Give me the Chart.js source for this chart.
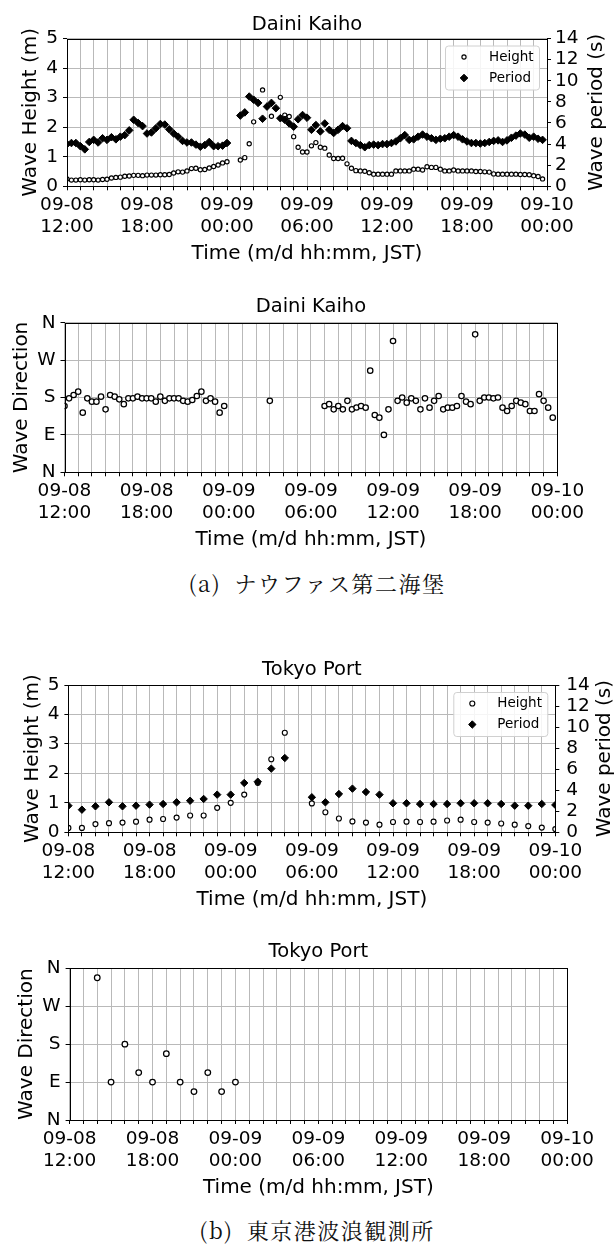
<!DOCTYPE html>
<html>
<head>
<meta charset="utf-8">
<script src="https://cdn.jsdelivr.net/npm/chart.js@4.4.1/dist/chart.umd.min.js"></script>
<style>
  html, body { margin: 0; padding: 0; background: #fff; }
  body { width: 615px; height: 1244px; position: relative; overflow: hidden; }
  canvas { position: absolute; left: 0; }
  .caption {
    position: absolute; left: 0; width: 634px; text-align: center;
    font-family: "Noto Serif CJK JP", "Noto Sans CJK JP", serif;
    font-size: 22px; line-height: 26px; letter-spacing: 1.5px; word-spacing: 6px; color: #111;
  }
</style>
</head>
<body>
<canvas id="dkWave" width="615" height="280" style="top:0"></canvas>
<canvas id="dkDir" width="615" height="280" style="top:280px"></canvas>
<div class="caption" style="top:570px">(a) ナウファス第二海堡</div>
<canvas id="tpWave" width="615" height="300" style="top:630px"></canvas>
<canvas id="tpDir" width="615" height="280" style="top:930px"></canvas>
<div class="caption" style="top:1217px">(b) 東京港波浪観測所</div>

<script>
// x axis: hours after 09-08 12:00 (JST)
const hourTicks = [0, 6, 12, 18, 24, 30, 36];
const hourTickLabels = [['09-08', '12:00'], ['09-08', '18:00'], ['09-09', '00:00'], ['09-09', '06:00'],
                        ['09-09', '12:00'], ['09-09', '18:00'], ['09-10', '00:00']];
const dirTickLabels = ['N', 'E', 'S', 'W', 'N'];   // 0, 90, 180, 270, 360 deg

// Daini Kaiho, one value every 20 min from 09-08 12:00
const dkHeight = [
  0.25, 0.21, 0.21, 0.22, 0.21, 0.22, 0.22, 0.21, 0.23, 0.24,
  0.28, 0.30, 0.31, 0.34, 0.35, 0.37, 0.37, 0.36, 0.38, 0.38,
  0.38, 0.39, 0.39, 0.40, 0.45, 0.49, 0.48, 0.52, 0.60, 0.61,
  0.56, 0.57, 0.62, 0.67, 0.72, 0.79, 0.83, null, null, 0.89,
  0.97, 1.44, 2.18, null, 3.26, null, 2.37, null, 3.01, 2.41,
  2.36, 1.68, 1.32, 1.16, 1.16, 1.37, 1.48, 1.32, 1.29, 1.06,
  0.94, 0.94, 0.95, 0.76, 0.61, 0.53, 0.52, 0.51, 0.46, 0.41,
  0.41, 0.41, 0.41, 0.41, 0.52, 0.52, 0.52, 0.52, 0.58, 0.58,
  0.55, 0.66, 0.64, 0.64, 0.58, 0.52, 0.52, 0.55, 0.52, 0.52,
  0.52, 0.52, 0.50, 0.50, 0.49, 0.48, 0.42, 0.41, 0.41, 0.41,
  0.41, 0.41, 0.40, 0.40, 0.39, 0.36, 0.33, 0.25, null
];
const dkPeriod = [
  4.0, 4.1, 4.1, 3.8, 3.5, 4.2, 4.4, 4.15, 4.55, 4.4,
  4.65, 4.45, 4.7, 4.85, 5.3, 6.3, 6.0, 5.7, 5.0, 5.1,
  5.5, 5.9, 5.85, 5.4, 5.0, 4.7, 4.3, 4.15, 4.15, 3.95,
  3.75, 3.9, 4.2, 3.8, 3.8, 3.85, 4.1, null, null, 6.7,
  7.0, 8.5, 8.2, 7.9, 6.4, 7.55, 7.9, 7.4, 6.45, 6.3,
  5.95, 5.65, 6.35, 6.75, 6.5, 5.35, 5.8, 5.2, 5.95, 5.35,
  5.05, 5.35, 5.7, 5.5, 4.3, 4.1, 3.9, 3.7, 3.9, 3.95,
  3.9, 4.0, 4.0, 4.1, 4.25, 4.55, 4.85, 4.4, 4.45, 4.7,
  4.9, 4.7, 4.55, 4.4, 4.5, 4.55, 4.7, 4.85, 4.7, 4.45,
  4.25, 4.1, 4.1, 4.05, 4.1, 4.2, 4.3, 4.35, 4.2, 4.35,
  4.6, 4.8, 5.0, 4.9, 4.6, 4.7, 4.5, 4.4, null
];
const dkDirection = [
  159.5, 178, 186, 194, 143.5, 178, 170, 170, 182, 151.5,
  186, 182, 175.5, 164, 178, 178, 182, 178, 178, 178,
  170, 182, 172, 178, 178, 178, 172, 170, 174, 183.5,
  194, 172, 178, 170, 143.5, 159.5, null, null, null, null,
  null, null, null, null, null, 172, null, null, null, null,
  null, null, null, null, null, null, null, 159.5, 164, 151.5,
  159.5, 151.5, 172, 151.5, 156, 159.5, 155.5, 244.5, 138, 131.5,
  90, 151.5, 316, 172, 180, 167.5, 178, 172, 151.5, 178,
  155.5, 172, 183.5, 151.5, 155.5, 155.5, 159.5, 183.5, 170, 164,
  332, 172, 180, 180, 178, 180, 155.5, 147.5, 159.5, 172,
  167.5, 164, 147.5, 147.5, 188, 172, 155.5, 131.5, null
];
const dkTimes = dkHeight.map((_, i) => i / 3);

// Tokyo Port, hourly from 09-08 12:00
const tpHeight = [
  0.15, 0.15, 0.28, 0.31, 0.33, 0.36, 0.43, 0.45, 0.50, 0.57, 0.57, 0.83, 1.0,
  1.28, 1.68, 2.48, 3.38, null, 0.98, 0.68, 0.47, 0.37, 0.33, 0.26, 0.35,
  0.36, 0.35, 0.36, 0.40, 0.43, 0.35, 0.33, 0.30, 0.26, 0.21, 0.16, 0.11
];
const tpPeriod = [
  2.53, 2.15, 2.47, 2.85, 2.47, 2.53, 2.63, 2.69, 2.85, 3.0, 3.17, 3.58, 3.58,
  4.69, 4.81, 6.05, 7.06, null, 3.33, 2.85, 3.64, 4.15, 3.83, 3.58, 2.76,
  2.76, 2.69, 2.69, 2.69, 2.76, 2.76, 2.76, 2.69, 2.53, 2.53, 2.69, 2.6
];
const tpDirection = [
  null, null, 337.5, 90, 180, 112.5, 90, 157.5, 90, 67.5, 112.5, 67.5, 90,
  null, null, null, null, null, null, null, null, null, null, null, null,
  null, null, null, null, null, null, null, null, null, null, null, null
];
const tpTimes = tpHeight.map((_, i) => i);

Chart.defaults.font.family = "'DejaVu Sans', sans-serif";
Chart.defaults.color = '#000';

const gridColor = '#b9b9b9';
const tickFont = { size: 18.5 };
const labelFont = { size: 20 };

function points(times, values) {
  return times.map((t, i) => ({ x: t, y: values[i] })).filter(p => p.y !== null);
}

// black box round the plot area
const framePlugin = {
  id: 'frame',
  afterDatasetsDraw(chart) {
    const { ctx, chartArea: a } = chart;
    ctx.save();
    ctx.strokeStyle = '#000';
    ctx.lineWidth = 1;
    ctx.strokeRect(Math.round(a.left) + 0.5, Math.round(a.top) + 0.5,
                   Math.round(a.right) - Math.round(a.left), Math.round(a.bottom) - Math.round(a.top));
    ctx.restore();
  }
};

// right axis label reads bottom to top, as in matplotlib's twinx
const rightLabel = {
  id: 'rightLabel',
  afterDraw(chart, args, opts) {
    if (!opts.text) return;
    const { ctx, chartArea: a } = chart;
    ctx.save();
    ctx.translate(opts.x, (a.top + a.bottom) / 2);
    ctx.rotate(-Math.PI / 2);
    ctx.font = "20px 'DejaVu Sans', sans-serif";
    ctx.fillStyle = '#000';
    ctx.textAlign = 'center';
    ctx.textBaseline = 'middle';
    ctx.fillText(opts.text, 0, 0);
    ctx.restore();
  }
};

// legend drawn inside the upper right corner, like matplotlib's
const insideLegend = {
  id: 'insideLegend',
  afterDraw(chart, args, opts) {
    if (!opts.show) return;
    const { ctx, chartArea: a } = chart;
    const w = 94, h = 44;
    const x = a.right - 8 - w, y = a.top + 7;
    ctx.save();
    ctx.fillStyle = 'rgba(255,255,255,0.85)';
    ctx.strokeStyle = '#d0d0d0';
    ctx.lineWidth = 1;
    ctx.beginPath();
    ctx.roundRect(x + 0.5, y + 0.5, w, h, 3);
    ctx.fill();
    ctx.stroke();
    ctx.font = "13.5px 'DejaVu Sans', sans-serif";
    ctx.textBaseline = 'middle';
    chart.data.datasets.forEach((ds, i) => {
      const cy = y + 11.5 + i * 21;
      ctx.fillStyle = ds.pointBackgroundColor;
      ctx.strokeStyle = ds.pointBorderColor;
      ctx.lineWidth = ds.pointBorderWidth;
      Chart.helpers.drawPoint(ctx, {
        pointStyle: ds.pointStyle, radius: ds.pointRadius, borderWidth: ds.pointBorderWidth, rotation: 0
      }, x + 19, cy);
      ctx.fillStyle = '#000';
      ctx.fillText(ds.label, x + 44, cy);
    });
    ctx.restore();
  }
};

function timeAxis(height, titlePad) {
  return {
    type: 'linear', min: 0, max: 36,
    afterFit(s) { s.height = height; },
    ticks: {
      stepSize: 1, autoSkip: false, maxRotation: 0, minRotation: 0, padding: 4, font: tickFont,
      callback(v) { const k = hourTicks.indexOf(v); return k < 0 ? '' : hourTickLabels[k]; }
    },
    grid: { color: gridColor, lineWidth: 1, tickLength: 4, tickColor: '#000' },
    border: { display: false },
    title: { display: true, text: 'Time (m/d hh:mm, JST)', font: labelFont, padding: { top: 0, bottom: titlePad } }
  };
}

function waveChart(id, g) {
  new Chart(document.getElementById(id), {
    type: 'scatter',
    data: {
      datasets: [
        { label: 'Height', data: points(g.times, g.height), yAxisID: 'yH', order: 2, clip: 0,
          pointStyle: 'circle', pointRadius: g.circle, pointBorderWidth: 1.15,
          pointBackgroundColor: '#fff', pointBorderColor: '#000' },
        { label: 'Period', data: points(g.times, g.period), yAxisID: 'yP', order: 1, clip: 0,
          pointStyle: 'rectRot', pointRadius: g.diamond, pointBorderWidth: 1,
          pointBackgroundColor: '#000', pointBorderColor: '#000' }
      ]
    },
    options: {
      responsive: false, animation: false, devicePixelRatio: 1,
      layout: { padding: 0 },
      plugins: {
        legend: { display: false }, tooltip: { enabled: false },
        title: { display: true, text: g.title, fullSize: false, font: { size: 19.5, weight: 'normal' },
                 padding: g.titlePad, color: '#000' },
        insideLegend: { show: true },
        rightLabel: { text: 'Wave period (s)', x: g.rightTitleX }
      },
      scales: {
        x: timeAxis(g.xHeight, g.xTitlePad),
        yH: {
          type: 'linear', position: 'left', min: 0, max: 5,
          afterFit(s) { s.width = g.left; },
          ticks: { stepSize: 1, autoSkip: false, padding: 5, font: tickFont },
          grid: { color: gridColor, lineWidth: 1, tickLength: 4, tickColor: '#000' },
          border: { display: false },
          title: { display: true, text: 'Wave Height (m)', font: labelFont, padding: { top: g.leftTitle } }
        },
        yP: {
          type: 'linear', position: 'right', min: 0, max: 14,
          afterFit(s) { s.width = g.right; },
          ticks: { stepSize: 2, autoSkip: false, padding: g.rightPad, font: tickFont },
          grid: { drawOnChartArea: false, tickLength: 4, tickColor: '#000' },
          border: { display: false }
        }
      }
    },
    plugins: [framePlugin, insideLegend, rightLabel]
  });
}

function directionChart(id, g) {
  new Chart(document.getElementById(id), {
    type: 'scatter',
    data: {
      datasets: [
        { label: 'Direction', data: points(g.times, g.direction), clip: 0,
          pointStyle: 'circle', pointRadius: g.circle, pointBorderWidth: 1.25,
          pointBackgroundColor: '#fff', pointBorderColor: '#000' }
      ]
    },
    options: {
      responsive: false, animation: false, devicePixelRatio: 1,
      layout: { padding: { left: 0, top: 0, bottom: 0, right: g.rightGap } },
      plugins: {
        legend: { display: false }, tooltip: { enabled: false },
        title: { display: true, text: g.title, fullSize: false, font: { size: 19.5, weight: 'normal' },
                 padding: g.titlePad, color: '#000' }
      },
      scales: {
        x: timeAxis(g.xHeight, g.xTitlePad),
        y: {
          type: 'linear', position: 'left', min: 0, max: 360,
          afterFit(s) { s.width = g.left; },
          ticks: { stepSize: 90, autoSkip: false, padding: 5, font: tickFont, callback: v => dirTickLabels[v / 90] },
          grid: { color: gridColor, lineWidth: 1, tickLength: 4, tickColor: '#000' },
          border: { display: false },
          title: { display: true, text: 'Wave Direction', font: labelFont, padding: { top: g.leftTitle } }
        }
      }
    },
    plugins: [framePlugin]
  });
}

waveChart('dkWave', {
  title: 'Daini Kaiho', times: dkTimes, height: dkHeight, period: dkPeriod,
  circle: 2.1, diamond: 3.8,
  titlePad: { top: 13.3, bottom: 1.8 }, xHeight: 93.7, xTitlePad: 14.7,
  left: 67, leftTitle: 18.6, right: 68, rightPad: 4, rightTitleX: 597
});
directionChart('dkDir', {
  title: 'Daini Kaiho', times: dkTimes, direction: dkDirection, circle: 2.7,
  titlePad: { top: 15, bottom: 4.3 }, xHeight: 87.7, xTitlePad: 8.7,
  left: 64.5, leftTitle: 9.5, rightGap: 57.7
});
waveChart('tpWave', {
  title: 'Tokyo Port', times: tpTimes, height: tpHeight, period: tpPeriod,
  circle: 2.5, diamond: 3.7,
  titlePad: { top: 28.3, bottom: 3.3 }, xHeight: 97.7, xTitlePad: 18.4,
  left: 68.4, leftTitle: 21, right: 59.7, rightPad: 7, rightTitleX: 605
});
directionChart('tpDir', {
  title: 'Tokyo Port', times: tpTimes, direction: tpDirection, circle: 2.8,
  titlePad: { top: 10, bottom: 4.9 }, xHeight: 90, xTitlePad: 10,
  left: 69.6, leftTitle: 15.2, rightGap: 47.9
});
</script>
</body>
</html>
